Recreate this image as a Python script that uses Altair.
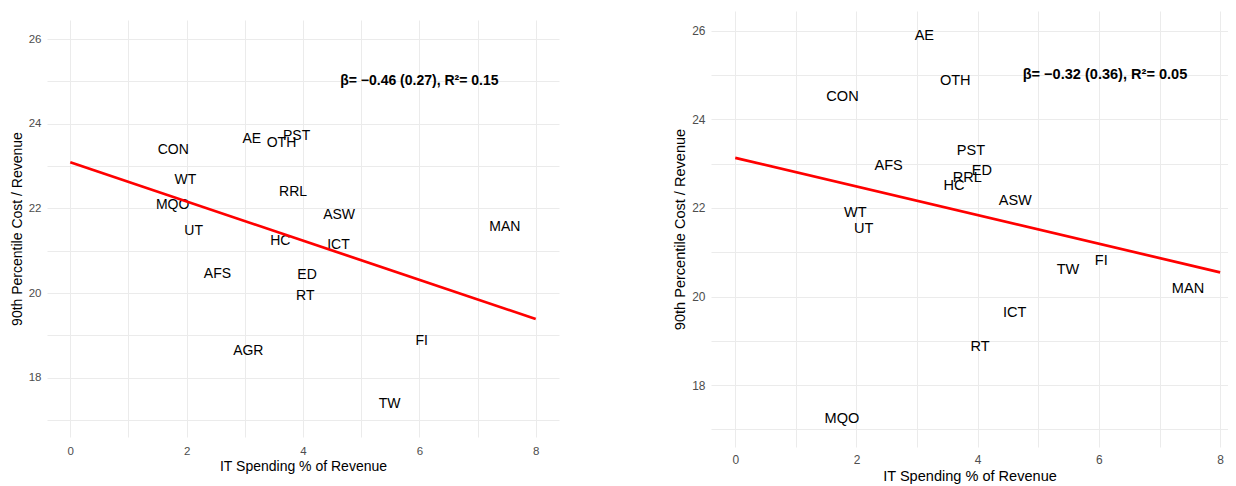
import altair as alt
import pandas as pd

# ---- data ----
labels_left = ["CON", "AE", "OTH", "PST", "WT", "RRL", "MQO", "ASW", "MAN",
               "UT", "HC", "ICT", "AFS", "ED", "RT", "FI", "AGR", "TW"]
x_left = [1.77, 3.12, 3.63, 3.89, 1.98, 3.83, 1.76, 4.62, 7.47,
          2.12, 3.61, 4.61, 2.53, 4.07, 4.04, 6.04, 3.06, 5.49]
y_left = [23.37, 23.63, 23.54, 23.70, 22.66, 22.38, 22.09, 21.85, 21.57,
          21.46, 21.24, 21.13, 20.44, 20.43, 19.94, 18.87, 18.62, 17.39]

labels_right = ["AE", "OTH", "CON", "PST", "AFS", "ED", "RRL", "HC", "ASW",
                "WT", "UT", "FI", "TW", "MAN", "ICT", "RT", "MQO"]
x_right = [3.12, 3.63, 1.77, 3.89, 2.53, 4.07, 3.83, 3.61, 4.62,
           1.98, 2.12, 6.04, 5.49, 7.47, 4.61, 4.04, 1.76]
y_right = [25.89, 24.87, 24.51, 23.28, 22.94, 22.84, 22.68, 22.50, 22.16,
           21.88, 21.52, 20.80, 20.59, 20.18, 19.62, 18.86, 17.24]

ann_left = "β= −0.46 (0.27), R²= 0.15"
ann_right = "β= −0.32 (0.36), R²= 0.05"
ann_pos_left = [6.0, 25.0]
ann_pos_right = [6.1, 25.0]

x_ticks = list(range(0, 9))
y_ticks = list(range(17, 27))
x_title = "IT Spending % of Revenue"
y_title = "90th Percentile Cost / Revenue"

FONT = "Liberation Sans"
GRID = "#EBEBEB"


def panel(labels, xs, ys, ann, ann_pos, width, height, xmax, k, lpad, tpad):
    df = pd.DataFrame({"label": labels, "x": xs, "y": ys})
    xscale = alt.Scale(domain=[-0.4, xmax], nice=False, zero=False)
    yscale = alt.Scale(domain=[16.6, 26.45], nice=False, zero=False)
    xaxis = alt.Axis(values=x_ticks, format="d",
                     labelExpr="datum.value % 2 == 0 ? datum.label : ''",
                     title=x_title, grid=True, gridColor=GRID, gridWidth=1,
                     domain=False, ticks=False, tickSize=0,
                     labelColor="#4D4D4D", labelFontSize=11.5 * k, labelFont=FONT,
                     labelPadding=lpad, titleFont=FONT, titleFontSize=14 * k,
                     titleFontWeight="normal", titleColor="black", titlePadding=tpad)
    yaxis = alt.Axis(values=y_ticks, format="d",
                     labelExpr="datum.value % 2 == 0 ? datum.label : ''",
                     title=y_title, grid=True, gridColor=GRID, gridWidth=1,
                     domain=False, ticks=False, tickSize=0,
                     labelColor="#4D4D4D", labelFontSize=11.5 * k, labelFont=FONT,
                     labelPadding=6, titleFont=FONT, titleFontSize=14 * k,
                     titleFontWeight="normal", titleColor="black", titlePadding=4)
    base = alt.Chart(df)
    text = base.mark_text(font=FONT, fontSize=14 * k, color="black").encode(
        x=alt.X("x:Q", scale=xscale, axis=xaxis),
        y=alt.Y("y:Q", scale=yscale, axis=yaxis),
        text="label:N",
    )
    line = base.transform_regression("x", "y", extent=[0, 8]).mark_line(
        color="#FF0000", strokeWidth=2.7
    ).encode(
        x=alt.X("x:Q", scale=xscale),
        y=alt.Y("y:Q", scale=yscale),
    )
    adf = pd.DataFrame({"x": [ann_pos[0]], "y": [ann_pos[1]], "t": [ann]})
    annt = alt.Chart(adf).mark_text(font=FONT, fontSize=14 * k, fontWeight="bold",
                                    color="black").encode(
        x=alt.X("x:Q", scale=xscale),
        y=alt.Y("y:Q", scale=yscale),
        text="t:N",
    )
    return alt.layer(text, line, annt).properties(width=width, height=height)


left = panel(labels_left, x_left, y_left, ann_left, ann_pos_left,
             512, 417, 8.4, 1.0, 8, 3)
spacer = alt.Chart(pd.DataFrame({"a": [0]})).mark_point(opacity=0).encode(
    x=alt.X("a:Q", axis=None), y=alt.Y("a:Q", axis=None)
).properties(width=512, height=1)
left_col = alt.vconcat(spacer, left, spacing=5)

right = panel(labels_right, x_right, y_right, ann_right, ann_pos_right,
              517, 436, 8.13, 1.04, 7, 4)

chart = alt.hconcat(left_col, right, spacing=113).properties(
    padding={"left": 2, "top": 0, "right": 0, "bottom": 0}
).configure(font=FONT).configure_view(stroke=None)

chart.save("out.html", embed_options={"renderer": "svg", "actions": False})
